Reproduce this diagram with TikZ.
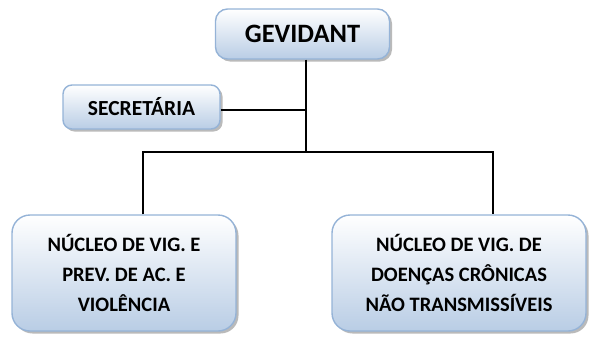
\documentclass[tikz,border=0pt]{standalone}
\usepackage{fontspec}
\setmainfont{Carlito}
\usetikzlibrary{shadows}
\definecolor{boxline}{RGB}{149,179,215}
\definecolor{boxbottom}{RGB}{185,205,229}
\tikzset{
  orgbox/.style={draw=boxline, line width=1.4pt, rounded corners=12pt,
    top color=white, bottom color=boxbottom,
    drop shadow={shadow xshift=2.5pt, shadow yshift=-2.5pt, fill=black!45, opacity=0.6},
    font=\bfseries, align=center, inner sep=0pt},
  link/.style={draw=black, line width=1.3pt}
}
\begin{document}
\begin{tikzpicture}[x=1pt,y=-1pt]
\useasboundingbox (0,0) rectangle (593,338);
\node[orgbox, minimum width=174pt, minimum height=50pt, font=\bfseries\fontsize{26.5}{30}\selectfont] (gev) at (302.5,34) {GEVIDANT};
\node[orgbox, minimum width=157pt, minimum height=44pt, rounded corners=9pt, font=\bfseries\fontsize{21.5}{24}\selectfont] (sec) at (141.5,107) {SECRETÁRIA};
\node[orgbox, minimum width=224pt, minimum height=116pt, rounded corners=18pt, font=\bfseries\fontsize{20.5}{30}\selectfont] (left) at (124,273) {NÚCLEO DE VIG. E\\PREV. DE AC. E\\VIOLÊNCIA};
\node[orgbox, minimum width=254pt, minimum height=116pt, rounded corners=18pt, font=\bfseries\fontsize{20.5}{30}\selectfont] (right) at (459,273) {NÚCLEO DE VIG. DE\\DOENÇAS CRÔNICAS\\NÃO TRANSMISSÍVEIS};
\coordinate (j) at (306,152);
\coordinate (jl) at (143,152);
\coordinate (jr) at (493,152);
\coordinate (s) at (306,110);
\draw[link] (gev.south -| j) -- (j);
\draw[link] (sec.east |- s) -- (s);
\draw[link] (jl |- left.north) -- (jl) -- (jr) -- (jr |- right.north);
\end{tikzpicture}
\end{document}
